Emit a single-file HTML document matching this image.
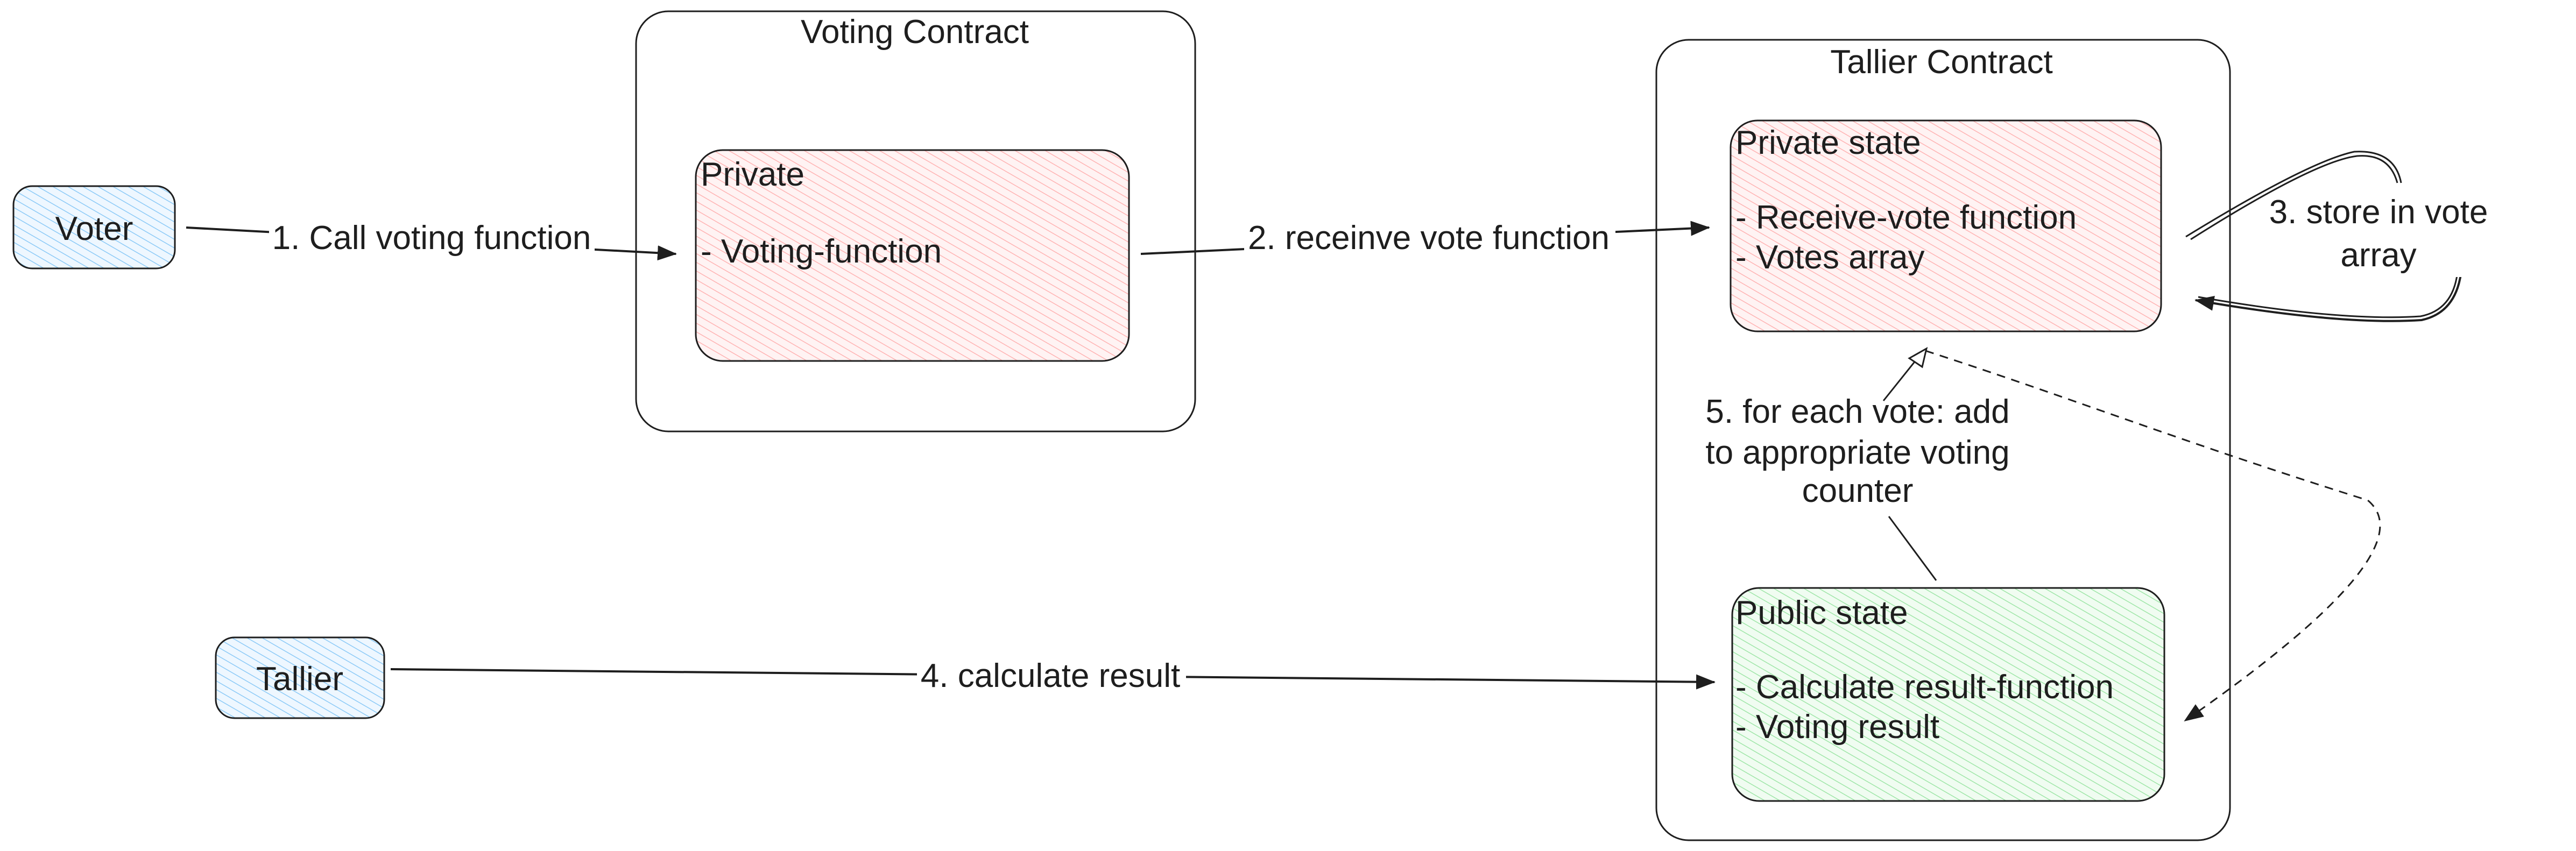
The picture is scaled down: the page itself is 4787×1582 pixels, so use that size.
<!DOCTYPE html>
<html><head><meta charset="utf-8"><style>
html,body{margin:0;padding:0;background:#fff}
svg{display:block}
text{font-family:"Liberation Sans",sans-serif;font-size:62px;fill:#1e1e1e}
</style></head><body>
<svg width="4787" height="1582" viewBox="0 0 4787 1582" xmlns="http://www.w3.org/2000/svg">
<defs>
<pattern id="hp" width="14" height="14" patternUnits="userSpaceOnUse" patternTransform="rotate(-60)"><rect width="14" height="14" fill="#fff3f3"/><line x1="0" y1="0" x2="0" y2="14" stroke="#ffb3b3" stroke-width="3"/></pattern>
<pattern id="hb" width="14" height="14" patternUnits="userSpaceOnUse" patternTransform="rotate(-60)"><rect width="14" height="14" fill="#eef7ff"/><line x1="0" y1="0" x2="0" y2="14" stroke="#8ccaf7" stroke-width="3"/></pattern>
<pattern id="hg" width="14" height="14" patternUnits="userSpaceOnUse" patternTransform="rotate(-60)"><rect width="14" height="14" fill="#f0fcf1"/><line x1="0" y1="0" x2="0" y2="14" stroke="#9fe6a8" stroke-width="3"/></pattern>
<marker id="ar" markerWidth="36" markerHeight="28" refX="34" refY="14" orient="auto" markerUnits="userSpaceOnUse" viewBox="0 0 36 28"><path d="M0,0 L36,14 L0,28 z" fill="#1e1e1e"/></marker>
</defs>
<g stroke="#1e1e1e" stroke-width="3" fill="none">
<rect x="1182" y="21" width="1039" height="781" rx="60"/>
<rect x="1293" y="279" width="805" height="392" rx="50" fill="url(#hp)"/>
<rect x="3078" y="74" width="1066" height="1488" rx="60"/>
<rect x="3216" y="224" width="800" height="392" rx="50" fill="url(#hp)"/>
<rect x="3219" y="1093" width="803" height="396" rx="50" fill="url(#hg)"/>
<rect x="25" y="346" width="300" height="153" rx="35" fill="url(#hb)"/>
<rect x="401" y="1185" width="313" height="150" rx="35" fill="url(#hb)"/>
<path d="M346,423 L1256,472" marker-end="url(#ar)" stroke-width="4"/>
<path d="M2120,472 L3176,423" marker-end="url(#ar)" stroke-width="4"/>
<path d="M726,1244 L3186,1268" marker-end="url(#ar)" stroke-width="4"/>
<path d="M4071,445 Q4300,300 4380,290 Q4440,285 4455,340"/>
<path d="M4062,440 Q4290,300 4375,282 Q4450,278 4462,340"/>
<path d="M4575,490 Q4570,580 4500,595 Q4350,605 4080,558" marker-end="url(#ar)" stroke-width="4"/>
<path d="M4568,490 Q4565,575 4498,588 Q4350,598 4085,552"/>
<path d="M3598,1079 L3510,960"/>
<path d="M3500,745 L3568,660"/>
<path d="M3548,666 L3580,648 L3572,682 z" fill="#fff"/>
<path d="M3578,652 C3850,740 4050,820 4400,930 C4460,980 4420,1090 4060,1340" stroke-dasharray="16,12" marker-end="url(#ar)"/>
</g>
<g fill="#fff">
<rect x="500" y="400" width="605" height="80"/>
<rect x="2312" y="400" width="690" height="80"/>
<rect x="1704" y="1220" width="500" height="75"/>
<rect x="4235" y="350" width="418" height="165"/>
</g>
<text x="1700" y="80" text-anchor="middle">Voting Contract</text>
<text x="1302" y="345">Private</text>
<text x="1302" y="488">- Voting-function</text>
<text x="175" y="446" text-anchor="middle">Voter</text>
<text x="557" y="1283" text-anchor="middle">Tallier</text>
<text x="802" y="463" text-anchor="middle">1. Call voting function</text>
<text x="2655" y="463" text-anchor="middle">2. receinve vote function</text>
<text x="1952" y="1277" text-anchor="middle">4. calculate result</text>
<text x="3608" y="136" text-anchor="middle">Tallier Contract</text>
<text x="3225" y="286">Private state</text>
<text x="3225" y="425">- Receive-vote function</text>
<text x="3225" y="499">- Votes array</text>
<text x="3225" y="1160">Public state</text>
<text x="3225" y="1298">- Calculate result-function</text>
<text x="3225" y="1372">- Voting result</text>
<text x="4420" y="415" text-anchor="middle">3. store in vote</text>
<text x="4420" y="495" text-anchor="middle">array</text>
<text x="3452" y="786" text-anchor="middle">5. for each vote: add</text>
<text x="3452" y="862" text-anchor="middle">to appropriate voting</text>
<text x="3452" y="933" text-anchor="middle">counter</text>
</svg>
</body></html>
